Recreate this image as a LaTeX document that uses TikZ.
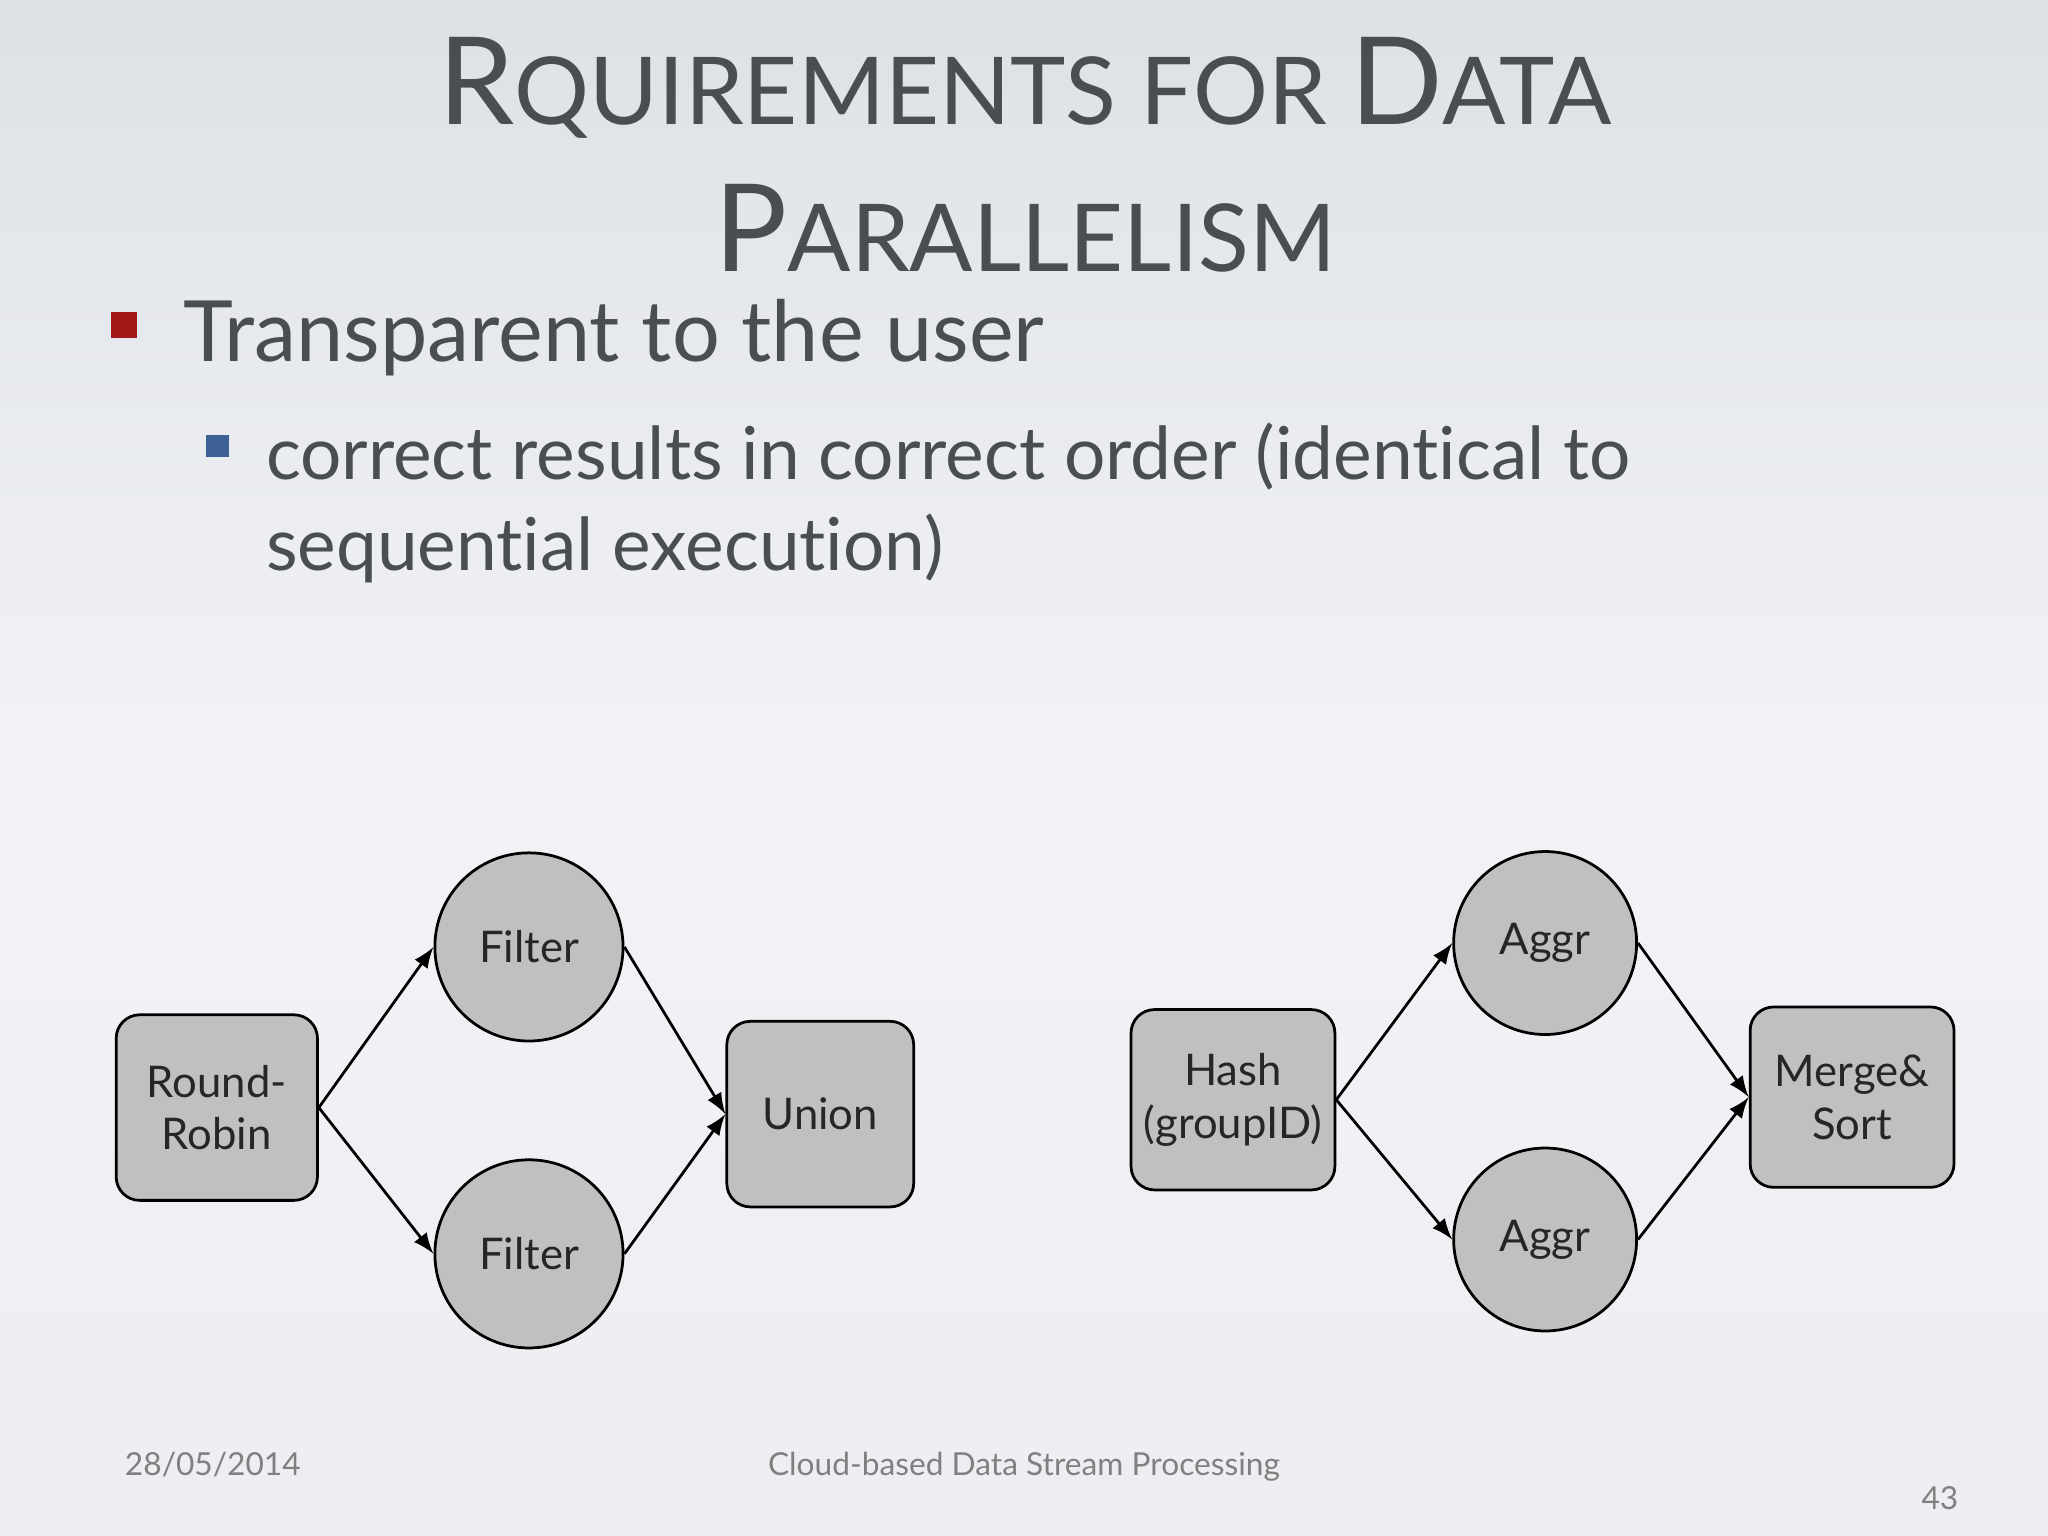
\documentclass[tikz,border=0pt]{standalone}
\usepackage{fontspec}
\setmainfont{Lato}[Ligatures={NoCommon}]
\begin{document}
\begin{tikzpicture}[x=0.01cm,y=-0.01cm,
  box/.style={draw=black,fill=nodegray,rounded corners=0.18cm,line width=0.6pt,font=\fontsize{9.5}{11.5}\selectfont,align=center,text=black!85,inner sep=1pt},
  circ/.style={draw=black,fill=nodegray,circle,line width=0.6pt,font=\fontsize{9.5}{11.5}\selectfont,text=black!85},
  arr/.style={-latex,line width=0.6pt}]
\definecolor{txt}{HTML}{4A4E52}
\definecolor{nodegray}{RGB}{192,192,192}
\definecolor{bulblue}{RGB}{60,95,150}
\shade[top color={rgb,255:red,221;green,225;blue,230},bottom color={rgb,255:red,236;green,238;blue,242},middle color={rgb,255:red,242;green,243;blue,247}] (0,0) rectangle (1568,1176);
\useasboundingbox (0,0) rectangle (1568,1176);
% title
\node[anchor=base,text=txt] (t1) at (785,95) {\fontsize{26.5}{30}\selectfont R\fontsize{20.4}{24}\selectfont QUIREMENTS FOR \fontsize{26.5}{30}\selectfont D\fontsize{20.4}{24}\selectfont ATA};
\node[anchor=base,text=txt] (t2) at (785,208) {\fontsize{26.5}{30}\selectfont P\fontsize{20.4}{24}\selectfont ARALLELISM};
% bullets
\fill[red!60!black!90] (85,239) rectangle (105,259);
\node[anchor=base west,inner sep=0,text=txt] (b1) at (140,277) {\fontsize{18.4}{22}\selectfont Transparent to the user};
\fill[bulblue] (158,333) rectangle (175,350);
\node[anchor=base west,inner sep=0,text=txt] (b2) at (203,367) {\fontsize{15.9}{20}\selectfont correct results in correct order (identical to};
\node[anchor=base west,inner sep=0,text=txt] (b3) at (203,437) {\fontsize{15.9}{20}\selectfont sequential execution)};
% left graph
\node[box,minimum width=1.54cm,minimum height=1.42cm] (rr) at (166,848) {Round-\\Robin};
\node[circ,minimum size=1.44cm] (f1) at (405,725) {Filter};
\node[circ,minimum size=1.44cm] (f2) at (405,960) {Filter};
\node[box,minimum width=1.43cm,minimum height=1.42cm] (un) at (628,853) {Union};
\draw[arr] (rr.east) -- (f1.west);
\draw[arr] (rr.east) -- (f2.west);
\draw[arr] (f1.east) -- (un.west);
\draw[arr] (f2.east) -- (un.west);
% right graph
\node[box,minimum width=1.56cm,minimum height=1.38cm] (ha) at (944,842) {Hash\\(groupID)};
\node[circ,minimum size=1.40cm] (a1) at (1183,722) {Aggr};
\node[circ,minimum size=1.40cm] (a2) at (1183,949) {Aggr};
\node[box,minimum width=1.56cm,minimum height=1.38cm] (ms) at (1418,840) {Merge\&\\Sort};
\draw[arr] (ha.east) -- (a1.west);
\draw[arr] (ha.east) -- (a2.west);
\draw[arr] (a1.east) -- (ms.west);
\draw[arr] (a2.east) -- (ms.west);
% footer
\node[anchor=base west,inner sep=0,text=gray] (d) at (95,1130) {\fontsize{6.9}{9}\selectfont 28/05/2014};
\node[anchor=base,inner sep=0,text=gray] (c) at (784,1130) {\fontsize{6.9}{9}\selectfont Cloud-based Data Stream Processing};
\node[anchor=base east,inner sep=0,text=gray] (n) at (1500,1156) {\fontsize{6.9}{9}\selectfont 43};
\end{tikzpicture}
\end{document}
